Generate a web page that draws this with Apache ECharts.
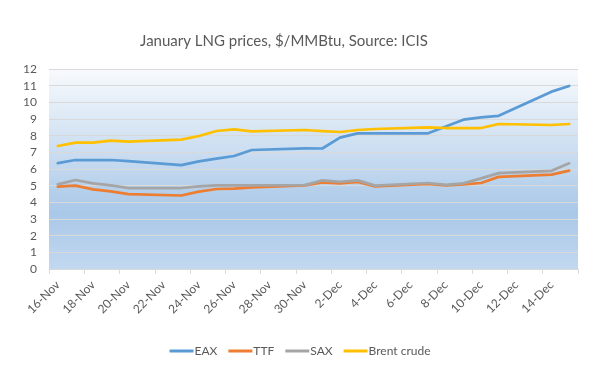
<!DOCTYPE html>
<html>
<head>
<meta charset="utf-8">
<script src="https://cdn.jsdelivr.net/npm/echarts@6/dist/echarts.min.js"></script>
<style>html,body{margin:0;padding:0;background:#fff;}#c{width:600px;height:370px;}</style>
</head>
<body>
<div id="c"></div>
<script>
// Calendar days on the x axis (16-Nov to 15-Dec 2015)
var axisDays = ["16-Nov","17-Nov","18-Nov","19-Nov","20-Nov","21-Nov","22-Nov","23-Nov","24-Nov","25-Nov",
  "26-Nov","27-Nov","28-Nov","29-Nov","30-Nov","1-Dec","2-Dec","3-Dec","4-Dec","5-Dec",
  "6-Dec","7-Dec","8-Dec","9-Dec","10-Dec","11-Dec","12-Dec","13-Dec","14-Dec","15-Dec"];
// Trading days with assessments
var tradeDates = ["16-Nov","17-Nov","18-Nov","19-Nov","20-Nov","23-Nov","24-Nov","25-Nov","26-Nov","27-Nov",
  "30-Nov","1-Dec","2-Dec","3-Dec","4-Dec","7-Dec","8-Dec","9-Dec","10-Dec","11-Dec","14-Dec","15-Dec"];
var eax   = [6.35,6.54,6.54,6.54,6.47,6.23,6.46,6.62,6.78,7.14,7.24,7.23,7.88,8.14,8.14,8.14,8.55,8.96,9.10,9.19,10.64,10.98];
var ttf   = [4.94,5.00,4.78,4.66,4.49,4.41,4.64,4.80,4.82,4.90,5.02,5.20,5.14,5.22,4.95,5.10,5.02,5.08,5.16,5.53,5.66,5.90];
var sax   = [5.08,5.34,5.14,5.02,4.86,4.86,4.96,5.02,5.02,5.02,5.03,5.32,5.23,5.32,5.00,5.16,5.05,5.14,5.44,5.75,5.89,6.34];
var brent = [7.38,7.58,7.58,7.70,7.64,7.76,7.98,8.28,8.38,8.26,8.34,8.27,8.22,8.34,8.40,8.50,8.46,8.46,8.46,8.70,8.64,8.70];
var seriesNames = ["EAX","TTF","SAX","Brent crude"];
var seriesColors = ["#5b9bd5","#ed7d31","#a5a5a5","#ffc000"];
var yTicks = [0,1,2,3,4,5,6,7,8,9,10,11,12];

function toAxis(vals){
  return axisDays.map(function(d){
    var i = tradeDates.indexOf(d);
    return i >= 0 ? vals[i] : null;
  });
}
var allVals = [eax, ttf, sax, brent];
var font = "Lato, 'Open Sans', sans-serif";

var chart = echarts.init(document.getElementById('c'), null, {renderer:'canvas'});
chart.setOption({
  animation: false,
  backgroundColor: '#ffffff',
  title: {
    text: 'January LNG prices, $/MMBtu, Source: ICIS',
    left: 279, top: 29, textAlign: 'center',
    textStyle: {fontFamily: font, fontSize: 15, fontWeight: 'normal', color: '#595959'}
  },
  legend: {
    bottom: 8, left: 'center',
    icon: 'rect', itemWidth: 24, itemHeight: 3, itemGap: 11,
    textStyle: {fontFamily: font, fontSize: 12, color: '#595959', padding: [0,0,0,-4]},
    data: seriesNames
  },
  grid: {
    left: 49, right: 22, top: 69, bottom: 101,
    show: true, borderWidth: 0,
    backgroundColor: new echarts.graphic.LinearGradient(0,0,0,1,[
      {offset: 0, color: '#f8fafd'},
      {offset: 0.72, color: '#a9c8e8'},
      {offset: 1, color: '#c2d8f0'}
    ])
  },
  xAxis: {
    type: 'category',
    data: axisDays,
    boundaryGap: true,
    axisLine: {show: true, lineStyle: {color: '#d9d9d9', width: 1}},
    axisTick: {show: true, interval: 1, length: 5, lineStyle: {color: '#d9d9d9'}},
    axisLabel: {interval: 1, rotate: 45, margin: 14, fontFamily: font, fontSize: 12, color: '#595959'},
    splitLine: {show: false}
  },
  yAxis: {
    type: 'value',
    min: yTicks[0], max: yTicks[yTicks.length-1], interval: 1,
    axisLine: {show: false},
    axisTick: {show: false},
    axisLabel: {margin: 12, fontFamily: font, fontSize: 12, color: '#595959'},
    splitLine: {show: true, lineStyle: {color: '#d9d9d9', width: 1}}
  },
  series: seriesNames.map(function(n, k){
    return {
      name: n, type: 'line', data: toAxis(allVals[k]),
      connectNulls: true, symbol: 'none',
      itemStyle: {color: seriesColors[k]},
      lineStyle: {color: seriesColors[k], width: 2.75, join: 'round', cap: 'round'}
    };
  })
});
</script>
</body>
</html>
